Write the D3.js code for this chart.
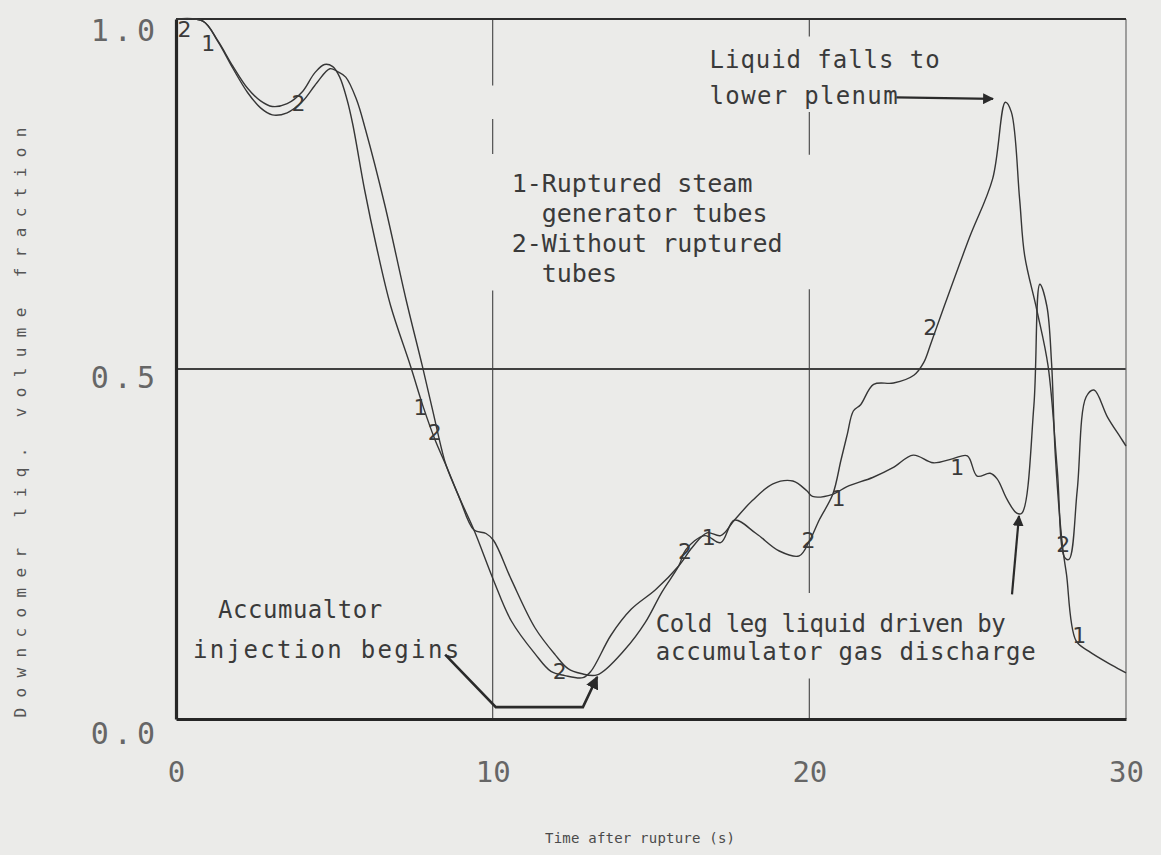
<!DOCTYPE html>
<html>
<head>
<meta charset="utf-8">
<script src="https://cdn.jsdelivr.net/npm/d3@7"></script>
<style>
  html, body { margin: 0; padding: 0; background: #ebebe9; }
  svg { display: block; }
  .note { font-family: "DejaVu Sans Mono", monospace; fill: #3a3a3a; }
  .tag { font-family: "DejaVu Sans", sans-serif; fill: #3a3a3a; }
</style>
</head>
<body>
<div id="root"></div>
<script>
"use strict";

// curve 1 - ruptured steam generator tubes
var timeRuptured = [0, 0.85, 1.32, 1.79, 2.26, 2.67, 3.04, 3.51, 3.99, 4.38, 4.69, 4.95, 5.17, 5.4, 5.58, 5.96,
    6.33, 6.78, 7.40, 7.80, 8.17, 8.54, 8.94, 9.41, 10.03, 10.59, 11.34, 11.84, 12.28, 12.85, 13.1,
    13.74, 14.38, 15.15, 15.88, 16.3, 16.77, 17.2, 17.63, 18.2, 18.85, 19.48, 19.92, 20.1, 20.74,
    21.19, 22.0, 22.64, 23.28, 23.91, 24.54, 24.99, 25.3, 25.71, 25.93, 26.24, 26.55, 26.71, 27.09,
    27.28, 27.5, 27.65, 27.77, 28.0, 28.12, 28.42, 28.82, 29.55, 30.0];
var fracRuptured = [1.0, 0.997, 0.969, 0.933, 0.901, 0.883, 0.875, 0.879, 0.896, 0.923, 0.935, 0.932, 0.917, 0.885, 0.85, 0.755,
    0.675, 0.59, 0.505, 0.447, 0.400, 0.361, 0.317, 0.270, 0.198, 0.140, 0.093, 0.068, 0.062, 0.059, 0.068,
    0.12, 0.157, 0.185, 0.219, 0.245, 0.266, 0.262, 0.284, 0.312, 0.336, 0.340, 0.326, 0.318, 0.321,
    0.332, 0.345, 0.359, 0.377, 0.366, 0.372, 0.376, 0.347, 0.351, 0.343, 0.314, 0.294, 0.294, 0.447,
    0.621, 0.59, 0.508, 0.375, 0.245, 0.207, 0.112, 0.097, 0.077, 0.066];

// curve 2 - without ruptured tubes
var timeIntact = [0, 0.85, 1.32, 1.79, 2.26, 2.67, 3.04, 3.51, 3.99, 4.45, 4.86, 5.1, 5.36, 5.7, 5.99, 6.59,
    7.26, 7.78, 8.12, 8.39, 8.54, 8.94, 9.41, 9.79, 10.03, 10.6, 11.34, 11.97, 12.38, 12.79, 13.3,
    14.19, 14.82, 15.34, 15.88, 16.1, 16.7, 17.2, 17.63, 18.32, 19.05, 19.68, 20.0, 20.32, 20.74,
    21.0, 21.2, 21.39, 21.62, 22.03, 22.66, 23.3, 23.61, 23.85, 24.27, 25.05, 25.79, 26.19, 26.38,
    26.64, 26.8, 27.18, 27.54, 27.83, 28.06, 28.2, 28.46, 28.74, 28.99, 29.42, 29.83, 30.0];
var fracIntact = [1.0, 0.997, 0.968, 0.93, 0.895, 0.873, 0.863, 0.866, 0.882, 0.909, 0.929, 0.925, 0.917, 0.885, 0.841, 0.735,
    0.600, 0.504, 0.438, 0.385, 0.361, 0.317, 0.270, 0.265, 0.255, 0.198, 0.13, 0.092, 0.072, 0.065, 0.063,
    0.10, 0.138, 0.181, 0.219, 0.242, 0.262, 0.252, 0.284, 0.265, 0.24, 0.233, 0.254, 0.285, 0.321,
    0.37, 0.407, 0.44, 0.449, 0.478, 0.48, 0.491, 0.509, 0.538, 0.591, 0.687, 0.772, 0.881, 0.867,
    0.743, 0.662, 0.585, 0.504, 0.356, 0.231, 0.228, 0.327, 0.46, 0.47, 0.431, 0.402, 0.39];

var xTicks = [0, 10, 20, 30];
var yTicks = [0.0, 0.5, 1.0];
var legendLines = ["1-Ruptured steam", "  generator tubes", "2-Without ruptured", "  tubes"];

var width = 1161, height = 855;
var margin = { top: 19, right: 35, bottom: 136, left: 176 };

var svg = d3.select("#root").append("svg")
    .attr("width", width)
    .attr("height", height);

var defs = svg.append("defs");
defs.append("marker")
    .attr("id", "head")
    .attr("viewBox", "0 0 10 10")
    .attr("refX", 9).attr("refY", 5)
    .attr("markerWidth", 5).attr("markerHeight", 5)
    .attr("markerUnits", "strokeWidth")
    .attr("orient", "auto")
    .append("path")
    .attr("d", "M0,0 L10,5 L0,10 Z")
    .attr("fill", "#2a2a2a");

var x = d3.scaleLinear().domain([0, 30]).range([margin.left, width - margin.right]);
var y = d3.scaleLinear().domain([0, 1]).range([height - margin.bottom, margin.top]);

var ink = "#363636";

// grid, broken where the old plot had gaps
var gridV = [
    { t: 10, spans: [[1.0, 0.905], [0.857, 0.807], [0.612, 0]] },
    { t: 20, spans: [[1.0, 0.975], [0.867, 0.806], [0.614, 0.18], [0.058, 0]] }
];
var grid = svg.append("g").attr("class", "grid");
gridV.forEach(function (g) {
    g.spans.forEach(function (s) {
        grid.append("line")
            .attr("x1", x(g.t)).attr("x2", x(g.t))
            .attr("y1", y(s[0])).attr("y2", y(s[1]))
            .attr("stroke", "#505050").attr("stroke-width", 1.2);
    });
});
grid.append("line")
    .attr("x1", x(0)).attr("x2", x(30))
    .attr("y1", y(0.5)).attr("y2", y(0.5))
    .attr("stroke", "#404040").attr("stroke-width", 1.8);

// frame
svg.append("line").attr("x1", x(30)).attr("x2", x(30)).attr("y1", y(1)).attr("y2", y(0))
    .attr("stroke", "#6a6a6a").attr("stroke-width", 1.2);
svg.append("line").attr("x1", x(0)).attr("x2", x(30)).attr("y1", y(1)).attr("y2", y(1))
    .attr("stroke", "#2e2e2e").attr("stroke-width", 2);

// axes drawn with d3 axes, ticks hidden, thick domain
var xAxis = svg.append("g")
    .attr("transform", "translate(0," + y(0) + ")")
    .call(d3.axisBottom(x).tickValues(xTicks).tickSize(0).tickPadding(42).tickFormat(d3.format("d")));
xAxis.select(".domain").attr("stroke", "#262626").attr("stroke-width", 3.2);
xAxis.selectAll("text")
    .attr("font-family", "DejaVu Sans Mono").attr("fill", "#666")
    .style("font-size", "29px");

var yAxis = svg.append("g")
    .attr("transform", "translate(" + x(0) + ",0)")
    .call(d3.axisLeft(y).tickValues(yTicks).tickSize(0).tickPadding(16).tickFormat(d3.format(".1f")));
yAxis.select(".domain").attr("stroke", "#262626").attr("stroke-width", 3.2);
yAxis.selectAll("text")
    .attr("font-family", "DejaVu Sans Mono").attr("fill", "#666")
    .style("font-size", "30px")
    .style("letter-spacing", "5px")
    .attr("dy", function (d) { return d === 0 ? "0.82em" : d === 1 ? "0.7em" : "0.6em"; });

// axis titles
svg.append("text")
    .attr("class", "note")
    .attr("transform", "translate(26," + ((y(0) + 126) / 2) + ") rotate(-90)")
    .attr("text-anchor", "middle")
    .attr("textLength", 590).attr("lengthAdjust", "spacing")
    .style("font-size", "16px").style("fill", "#555")
    .text("Downcomer  liq. volume  fraction");

svg.append("text")
    .attr("class", "note")
    .attr("x", 640).attr("y", 843)
    .attr("text-anchor", "middle")
    .attr("textLength", 190).attr("lengthAdjust", "spacing")
    .style("font-size", "14px").style("fill", "#4a4a4a")
    .text("Time after rupture (s)");

// curves
function toPoints(ts, vs) { return ts.map(function (t, i) { return { t: t, v: vs[i] }; }); }
var line = d3.line()
    .x(function (d) { return x(d.t); })
    .y(function (d) { return y(d.v); })
    .curve(d3.curveCatmullRom.alpha(0.5));

[toPoints(timeRuptured, fracRuptured), toPoints(timeIntact, fracIntact)].forEach(function (pts) {
    svg.append("path")
        .datum(pts)
        .attr("d", line)
        .attr("fill", "none")
        .attr("stroke", ink)
        .attr("stroke-width", 1.4)
        .attr("stroke-linejoin", "round");
});

// curve tags
var tags = [
    { t: 0.05, v: 0.985, s: "2" }, { t: 0.8, v: 0.965, s: "1" }, { t: 3.65, v: 0.88, s: "2" },
    { t: 7.5, v: 0.445, s: "1" }, { t: 7.95, v: 0.41, s: "2" }, { t: 11.9, v: 0.068, s: "2" },
    { t: 15.85, v: 0.24, s: "2" }, { t: 16.6, v: 0.26, s: "1" }, { t: 19.75, v: 0.255, s: "2" },
    { t: 20.7, v: 0.315, s: "1" }, { t: 23.6, v: 0.56, s: "2" }, { t: 24.45, v: 0.36, s: "1" },
    { t: 27.8, v: 0.25, s: "2" }, { t: 28.3, v: 0.12, s: "1" }
];
svg.selectAll(".tag").data(tags).enter().append("text")
    .attr("class", "tag")
    .attr("x", function (d) { return x(d.t); })
    .attr("y", function (d) { return y(d.v); })
    .attr("dy", "0.35em")
    .style("font-size", "22px")
    .text(function (d) { return d.s; });

// legend
svg.selectAll(".legend").data(legendLines).enter().append("text")
    .attr("class", "note")
    .attr("x", x(10.6))
    .attr("y", function (d, i) { return y(0.753) + i * 30; })
    .style("font-size", "25px")
    .style("white-space", "pre")
    .attr("xml:space", "preserve")
    .text(function (d) { return d; });

// annotations
function note(str, t, v, len) {
    svg.append("text").attr("class", "note")
        .attr("x", x(t)).attr("y", y(v))
        .attr("textLength", len).attr("lengthAdjust", "spacing")
        .style("font-size", "24px")
        .text(str);
}
note("Liquid falls to", 16.85, 0.93, 230);
note("lower plenum", 16.85, 0.878, 188);
note("Cold leg liquid driven by", 15.15, 0.124, 350);
note("accumulator gas discharge", 15.15, 0.084, 380);
note("Accumualtor", 1.33, 0.144, 164);
note("injection begins", 0.54, 0.087, 266);

var plain = d3.line().x(function (d) { return x(d.t); }).y(function (d) { return y(d.v); });

svg.append("path")
    .datum([{ t: 22.75, v: 0.888 }, { t: 25.8, v: 0.886 }])
    .attr("d", plain)
    .attr("stroke", "#2a2a2a").attr("stroke-width", 2.2).attr("fill", "none")
    .attr("marker-end", "url(#head)");

svg.append("path")
    .datum([{ t: 26.4, v: 0.178 }, { t: 26.62, v: 0.29 }])
    .attr("d", plain)
    .attr("stroke", "#2a2a2a").attr("stroke-width", 2.2).attr("fill", "none")
    .attr("marker-end", "url(#head)");

svg.append("path")
    .datum([{ t: 8.5, v: 0.092 }, { t: 10.1, v: 0.017 }, { t: 12.85, v: 0.017 }, { t: 13.3, v: 0.06 }])
    .attr("d", plain)
    .attr("stroke", "#2a2a2a").attr("stroke-width", 2.6).attr("fill", "none")
    .attr("stroke-linejoin", "miter")
    .attr("marker-end", "url(#head)");
</script>
</body>
</html>
